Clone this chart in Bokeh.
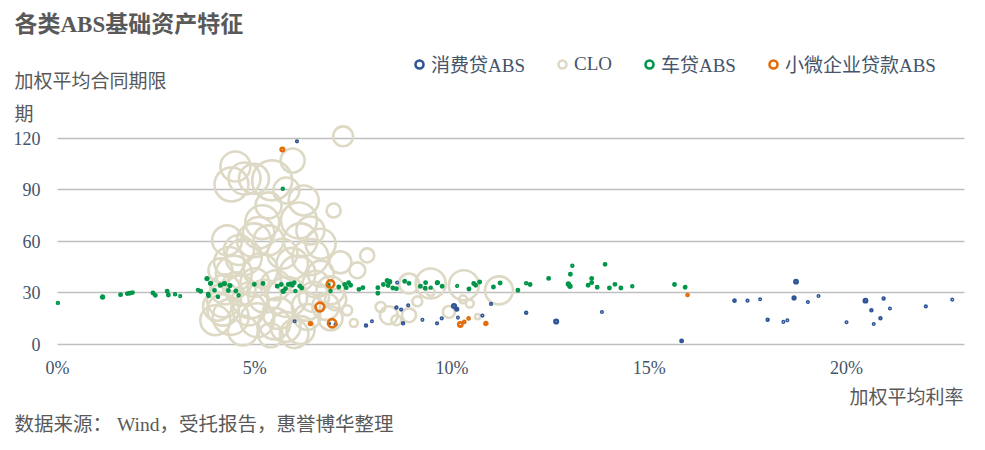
from bokeh.plotting import figure
from bokeh.models import Range1d, FixedTicker, Label, Legend, LegendItem, ColumnDataSource
from bokeh.embed import file_html
from bokeh.resources import INLINE
import math

# ---------------- data ----------------
series_names = ["消费贷ABS", "CLO", "车贷ABS", "小微企业贷款ABS"]

# 消费贷ABS: rate (%), term (期), amount (size weight)
cons_rate = [6.07, 6.01, 6.88, 7.05, 7.82, 7.97, 8.61, 8.59, 8.71, 8.89, 8.76, 9.25, 9.62, 9.74, 10.05,
             10.12, 10.15, 10.77, 10.99, 11.88, 12.64, 13.80, 15.82, 17.16, 17.49, 17.81, 18.00, 18.40,
             18.50, 18.72, 18.67, 19.02, 19.29, 20.00, 20.48, 20.63, 20.94, 20.69, 20.86, 21.10, 22.01, 22.68]
cons_term = [118.4, 13.4, 12.0, 11.5, 10.9, 13.4, 35.9, 21.4, 20.2, 22.7, 12.2, 14.2, 12.2, 15.1, 22.3,
             20.5, 15.5, 16.7, 23.5, 18.4, 13.2, 18.8, 1.9, 25.4, 25.4, 26.2, 14.2, 13.0,
             14.0, 36.5, 27.0, 24.6, 28.1, 12.8, 25.4, 19.8, 26.6, 11.8, 15.1, 20.8, 22.0, 26.0]
cons_amt = [0.3, 0.25, 0.3, 0.3, 0.4, 0.25, 0.25, 0.4, 0.3, 0.3, 0.4, 0.25, 0.3, 0.3, 1.4,
            0.8, 0.25, 0.3, 0.3, 0.4, 1.4, 0.25, 0.6, 0.5, 0.3, 0.25, 0.4, 0.25,
            0.25, 1.2, 0.8, 0.25, 0.25, 0.25, 1.2, 0.4, 0.4, 0.25, 0.4, 0.25, 0.3, 0.25]

# CLO
clo_rate = [7.24, 5.96, 4.51, 4.98, 4.74, 5.44, 6.24, 5.80, 7.00, 5.19, 6.12, 4.30, 4.98, 6.16, 6.67,
            4.72, 5.70, 6.41, 7.85, 7.60, 4.47, 5.15, 6.08, 6.67, 4.22, 4.89, 5.82, 6.50, 4.39, 5.06,
            5.78, 6.33, 7.34, 7.51, 8.19, 8.40, 8.59, 8.91, 9.12, 8.91, 9.46, 9.46, 9.92, 10.30, 10.28,
            10.45, 11.19, 10.65, 4.00, 5.40, 6.16, 6.92, 4.64, 5.53, 6.92, 4.13, 7.17, 5.35, 4.51,
            6.41, 5.35, 4.41, 4.20, 4.85, 5.60, 6.30, 5.00, 5.95, 4.60, 6.55, 5.25, 4.35,
            4.05, 4.25, 6.80, 7.05, 5.50, 6.00, 4.70, 5.10]
clo_term = [121.3, 107.2, 103.7, 96.5, 96.7, 95.6, 83.9, 89.7, 78.0, 71.2, 72.2, 60.6, 60.6, 60.6, 58.6,
            50.8, 52.8, 50.8, 51.8, 43.1, 41.2, 43.1, 41.2, 41.2, 25.6, 25.6, 27.5, 27.5, 15.9, 14.0,
            10.1, 15.9, 19.8, 12.4, 21.7, 16.9, 14.0, 16.9, 25.0, 35.4, 35.4, 30.5, 18.8, 34.4, 26.2,
            23.7, 31.4, 16.1, 14.0, 5.2, 8.2, 15.1, 31.4, 34.4, 31.4, 43.1, 47.8, 60.6, 34.4,
            66.4, 81.0, 93.2, 20.0, 20.5, 18.0, 22.0, 36.0, 47.0, 55.0, 35.0, 28.0, 48.0,
            22.0, 32.0, 22.0, 26.0, 12.0, 6.0, 8.0, 65.0]
clo_amt = [44, 64, 100, 100, 114, 178, 100, 75, 22, 128, 144, 100, 128, 128, 100,
           144, 100, 144, 22, 28, 144, 128, 144, 75, 128, 144, 178, 100, 144, 128,
           100, 75, 11, 7, 11, 36, 11, 22, 11, 44, 100, 7, 16, 100, 7,
           7, 87, 3, 100, 64, 87, 64, 100, 100, 87, 64, 54, 100, 75,
           87, 75, 128, 110, 120, 110, 90, 90, 110, 100, 80, 120, 100,
           90, 100, 80, 50, 110, 90, 100, 110]

# 车贷ABS
car_rate = [0.01, 1.14, 1.60, 1.77, 1.83, 1.90, 2.42, 2.48, 2.78, 2.81, 2.98, 3.11, 3.56, 3.63, 3.79,
            3.88, 3.82, 3.98, 4.06, 4.13, 4.23, 4.37, 4.33, 4.52, 4.59, 3.83, 4.07, 4.99, 5.21, 5.57,
            5.67, 5.78, 5.72, 5.85, 5.91, 6.00, 5.95, 6.14, 6.19, 6.03, 5.71, 6.86, 6.92, 7.13, 7.28,
            7.32, 7.38, 7.43, 7.64, 7.74, 8.12, 8.12, 8.26, 8.36, 8.42, 8.38, 8.50, 8.59, 8.80, 8.91,
            9.20, 9.33, 9.32, 9.46, 9.63, 9.75, 10.13, 10.43, 10.55, 10.60, 10.70, 11.05, 11.22, 11.67,
            11.88, 11.98, 12.45, 13.05, 13.00, 12.95, 12.99, 13.45, 13.54, 13.54, 13.68, 13.88, 13.99,
            14.13, 14.28, 14.57, 15.64, 15.91]
car_term = [24.1, 27.5, 28.9, 29.5, 29.7, 30.1, 29.9, 28.5, 30.9, 28.7, 29.1, 28.0, 31.6, 30.9, 38.3,
            35.5, 29.1, 31.4, 27.8, 34.4, 35.4, 34.2, 31.3, 31.0, 28.5, 28.1, 27.5, 34.9, 35.4, 33.8,
            34.8, 32.4, 30.9, 34.8, 35.1, 35.9, 34.4, 34.0, 32.8, 31.0, 90.7, 34.4, 31.0, 33.4, 34.8,
            33.0, 35.9, 34.4, 32.0, 33.0, 33.0, 29.7, 34.8, 37.1, 36.5, 34.2, 32.8, 32.4, 36.7, 35.5,
            33.8, 35.9, 32.6, 33.0, 35.9, 33.8, 34.0, 32.2, 35.4, 34.4, 36.3, 33.4, 35.7, 31.5,
            35.5, 34.8, 38.4, 45.8, 40.8, 35.1, 33.8, 34.4, 38.3, 35.9, 33.2, 46.6, 32.8,
            34.9, 32.8, 33.8, 34.8, 33.2]
car_amt = [0.4, 0.9, 0.6, 0.6, 0.6, 0.6, 0.6, 0.6, 0.6, 0.6, 0.4, 0.3, 0.4, 0.6, 0.8,
           0.8, 0.6, 0.6, 0.3, 0.8, 0.8, 0.8, 0.6, 0.6, 0.4, 0.4, 0.3, 0.6, 0.6, 0.6,
           0.6, 0.6, 0.9, 0.6, 0.6, 0.6, 0.6, 0.6, 0.6, 0.4, 0.4, 0.6, 0.4, 0.6, 0.6,
           0.6, 0.6, 0.6, 0.6, 0.6, 0.6, 0.6, 0.6, 0.8, 0.8, 0.6, 0.6, 0.6, 0.6, 0.6,
           0.6, 0.6, 0.6, 0.4, 0.8, 0.6, 0.3, 0.6, 0.6, 0.6, 0.6, 0.6, 0.6, 0.6,
           0.4, 0.6, 0.6, 0.4, 0.6, 0.9, 0.9, 0.6, 0.6, 0.6, 0.6, 0.6, 0.6,
           0.6, 0.6, 0.4, 0.6, 0.6]

# 小微企业贷款ABS
sme_rate = [5.70, 6.92, 6.65, 6.41, 6.96, 10.21, 10.31, 10.42, 10.86, 15.97]
sme_term = [113.6, 35.1, 21.7, 12.0, 12.2, 11.5, 13.0, 15.0, 12.1, 28.7]
sme_amt = [1.4, 6.3, 8.6, 0.9, 7.5, 2.0, 0.5, 0.5, 0.9, 0.5]

y_ticks = [0, 30, 60, 90, 120]
x_ticks = [0, 5, 10, 15, 20]
x_tick_labels = ["0%", "5%", "10%", "15%", "20%"]
x_max = 23.0

colors = {"消费贷ABS": "#2F5597", "CLO": "#DDD9C4", "车贷ABS": "#00964A", "小微企业贷款ABS": "#E46C0A"}

FONT = "Liberation Serif, Noto Sans CJK SC"
TXT = "#595959"
TICK = "#44546A"
GRID = "#BFBFBF"

# ---------------- figure ----------------
W, H = 977, 442
# the plot frame fills the whole canvas; axes sit at fixed data positions
p = figure(width=W, height=H, output_backend="svg", toolbar_location=None,
           x_range=Range1d(-1.445, 23.32), y_range=Range1d(-57.4, 200.6),
           min_border=0, min_border_left=0, min_border_right=0, min_border_top=0, min_border_bottom=0)
p.outline_line_color = None
p.background_fill_color = "white"
p.border_fill_color = "white"

# horizontal grid lines limited to the data span [0, x_max]
p.xgrid.visible = False
ygrid = p.ygrid[0]
if "cross_bounds" in ygrid.properties():
    ygrid.cross_bounds = (0, x_max)
    ygrid.grid_line_color = GRID
    ygrid.grid_line_width = 1.6
else:
    ygrid.visible = False
    p.segment(x0=[0] * len(y_ticks), x1=[x_max] * len(y_ticks), y0=y_ticks, y1=y_ticks,
              line_color=GRID, line_width=1.6)


def src(rate, term, amt):
    return ColumnDataSource(dict(x=rate, y=term, s=[3.0 * math.sqrt(a) for a in amt]))


r_clo = p.scatter("x", "y", size="s", source=src(clo_rate, clo_term, clo_amt), marker="circle",
                  fill_alpha=0, line_color=colors["CLO"], line_width=2.6)
r_car = p.scatter("x", "y", size="s", source=src(car_rate, car_term, car_amt), marker="circle",
                  fill_alpha=0, line_color=colors["车贷ABS"], line_width=2.6)
r_cons = p.scatter("x", "y", size="s", source=src(cons_rate, cons_term, cons_amt), marker="circle",
                   fill_alpha=0, line_color=colors["消费贷ABS"], line_width=2.6)
r_sme = p.scatter("x", "y", size="s", source=src(sme_rate, sme_term, sme_amt), marker="circle",
                  fill_alpha=0, line_color=colors["小微企业贷款ABS"], line_width=2.6)

# axes
p.yaxis.ticker = FixedTicker(ticks=y_ticks)
p.xaxis.ticker = FixedTicker(ticks=x_ticks)
p.xaxis.major_label_overrides = {t: l for t, l in zip(x_ticks, x_tick_labels)}
p.yaxis.fixed_location = 0
p.xaxis.fixed_location = 0
for ax in (p.xaxis, p.yaxis):
    ax.axis_line_color = None
    ax.major_tick_line_color = None
    ax.minor_tick_line_color = None
    ax.major_tick_out = 0
    ax.major_tick_in = 0
    ax.major_label_text_font = FONT
    ax.major_label_text_font_size = "18px"
    ax.major_label_text_color = TICK
p.yaxis.major_label_standoff = 17
p.xaxis.major_label_standoff = 14

# legend
legend = Legend(items=[LegendItem(label=series_names[0], renderers=[r_cons]),
                       LegendItem(label=series_names[1], renderers=[r_clo]),
                       LegendItem(label=series_names[2], renderers=[r_car]),
                       LegendItem(label=series_names[3], renderers=[r_sme])],
                orientation="horizontal", location=(409, 365),
                glyph_width=20, glyph_height=20, label_height=20, label_standoff=2, spacing=27,
                padding=0, margin=0, border_line_color=None, background_fill_alpha=0,
                label_text_font=FONT, label_text_font_size="19px", label_text_color=TICK)
p.add_layout(legend)


# texts (screen units from the frame's bottom-left corner, which is the canvas corner)
def lab(text, x, y, size, align="left", bold=False, color=TXT):
    p.add_layout(Label(x=x, y=y, x_units="screen", y_units="screen", text=text,
                       text_font=FONT, text_font_size=size, text_color=color,
                       text_align=align, text_baseline="middle",
                       text_font_style="bold" if bold else "normal"))


lab("各类ABS基础资产特征", 14, H - 24, "23px", bold=True)
lab("加权平均合同期限", 14, H - 81, "19px")
lab("期", 14, H - 114, "19px")
lab("加权平均利率", 963, H - 397, "19px", align="right")
lab("数据来源： Wind，受托报告，惠誉博华整理", 14, H - 424, "19.5px")

open("out.html", "w").write(file_html(p, INLINE))
